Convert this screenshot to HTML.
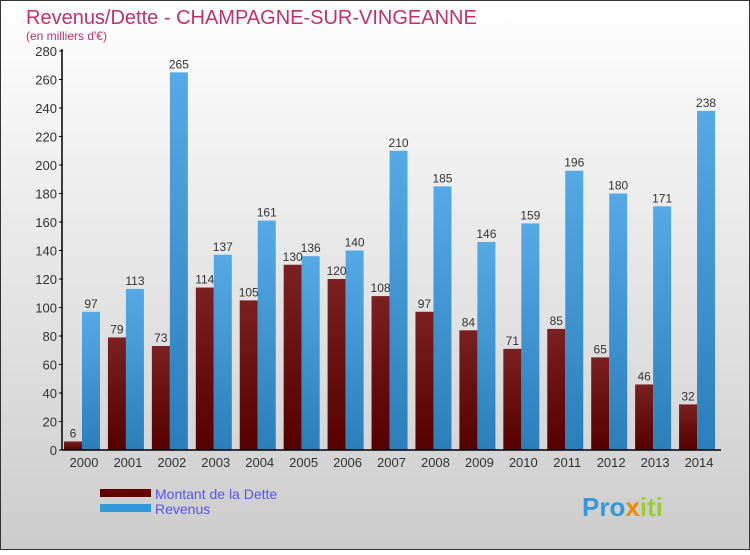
<!DOCTYPE html>
<html><head><meta charset="utf-8"><style>
body{margin:0}
svg text{font-family:"Liberation Sans",sans-serif}
</style></head><body>
<svg id="c" width="750" height="550" xmlns="http://www.w3.org/2000/svg">
<defs>
<linearGradient id="bg" x1="0" y1="0" x2="0" y2="1"><stop offset="0" stop-color="#ffffff"/><stop offset="1" stop-color="#cccccc"/></linearGradient>
<linearGradient id="gd" x1="0" y1="0" x2="0" y2="1"><stop offset="0" stop-color="#7a2020"/><stop offset="1" stop-color="#550000"/></linearGradient>
<linearGradient id="gr" x1="0" y1="0" x2="0" y2="1"><stop offset="0" stop-color="#55aae6"/><stop offset="1" stop-color="#2a7fba"/></linearGradient>
</defs>
<rect x="0.5" y="0.5" width="749" height="549" fill="url(#bg)" stroke="#333"/>
<text x="26" y="24" font-size="20" fill="#c0306a">Revenus/Dette - CHAMPAGNE-SUR-VINGEANNE</text>
<text x="26" y="40" font-size="12" fill="#c0306a">(en milliers d'€)</text>
<g id="plot"></g>
<g>
<rect x="100" y="489" width="51" height="8" fill="#660000"/>
<text x="155" y="499" font-size="14" fill="#5555ee">Montant de la Dette</text>
<rect x="100" y="504" width="51" height="8" fill="#3399dd"/>
<text x="155" y="514" font-size="14" fill="#5555ee">Revenus</text>
</g>
<text x="582" y="516" font-size="26" font-weight="bold" fill="#3399dd">Pro<tspan fill="#ee8800">x</tspan><tspan fill="#99cc33">iti</tspan></text>
</svg>
<script>
const years=["2000","2001","2002","2003","2004","2005","2006","2007","2008","2009","2010","2011","2012","2013","2014"];
const dette=[6,79,73,114,105,130,120,108,97,84,71,85,65,46,32];
const revenus=[97,113,265,137,161,136,140,210,185,146,159,196,180,171,238];
const yTicks=[0,20,40,60,80,100,120,140,160,180,200,220,240,260,280];
const NS="http://www.w3.org/2000/svg";
const g=document.getElementById('plot');
const X0=62,X1=721,Y0=450,Y1=51,YMAX=280;
const step=(X1-X0)/years.length;
const y=v=>Y0-(v/YMAX)*(Y0-Y1);
function mk(t,a,txt){const e=document.createElementNS(NS,t);for(const k in a)e.setAttribute(k,a[k]);if(txt!==undefined)e.textContent=txt;g.appendChild(e);return e;}
yTicks.forEach(v=>{
 const t=mk('text',{x:X0-5,y:y(v)+5,'font-size':13,fill:'#333','text-anchor':'end'},v);
 
 
 const l=mk('line',{x1:X0-3,x2:X0+1,y1:y(v),y2:y(v),stroke:'#000'});
 
 
});
years.forEach((yr,i)=>{
 const gx=X0+i*step;
 const bd=mk('rect',{x:gx+2,y:y(dette[i]),width:18,height:Y0-y(dette[i]),fill:'url(#gd)'});
 
 
 const br=mk('rect',{x:gx+20,y:y(revenus[i]),width:18,height:Y0-y(revenus[i]),fill:'url(#gr)'});
 
 
 const ld=mk('text',{x:gx+11,y:y(dette[i])-4,'font-size':12,fill:'#333','text-anchor':'middle'},dette[i]);
 
 
 const lr=mk('text',{x:gx+29,y:y(revenus[i])-4,'font-size':12,fill:'#333','text-anchor':'middle'},revenus[i]);
 
 
 const xl=mk('text',{x:gx+step/2,y:467,'font-size':13,fill:'#333','text-anchor':'middle'},yr);
 
 
});
const ya=mk('line',{x1:X0,x2:X0,y1:Y1-2,y2:Y0,stroke:'#000','stroke-width':1.5});


const xa=mk('line',{x1:X0,x2:X1,y1:Y0,y2:Y0,stroke:'#000','stroke-width':1.5});


</script>
</body></html>
